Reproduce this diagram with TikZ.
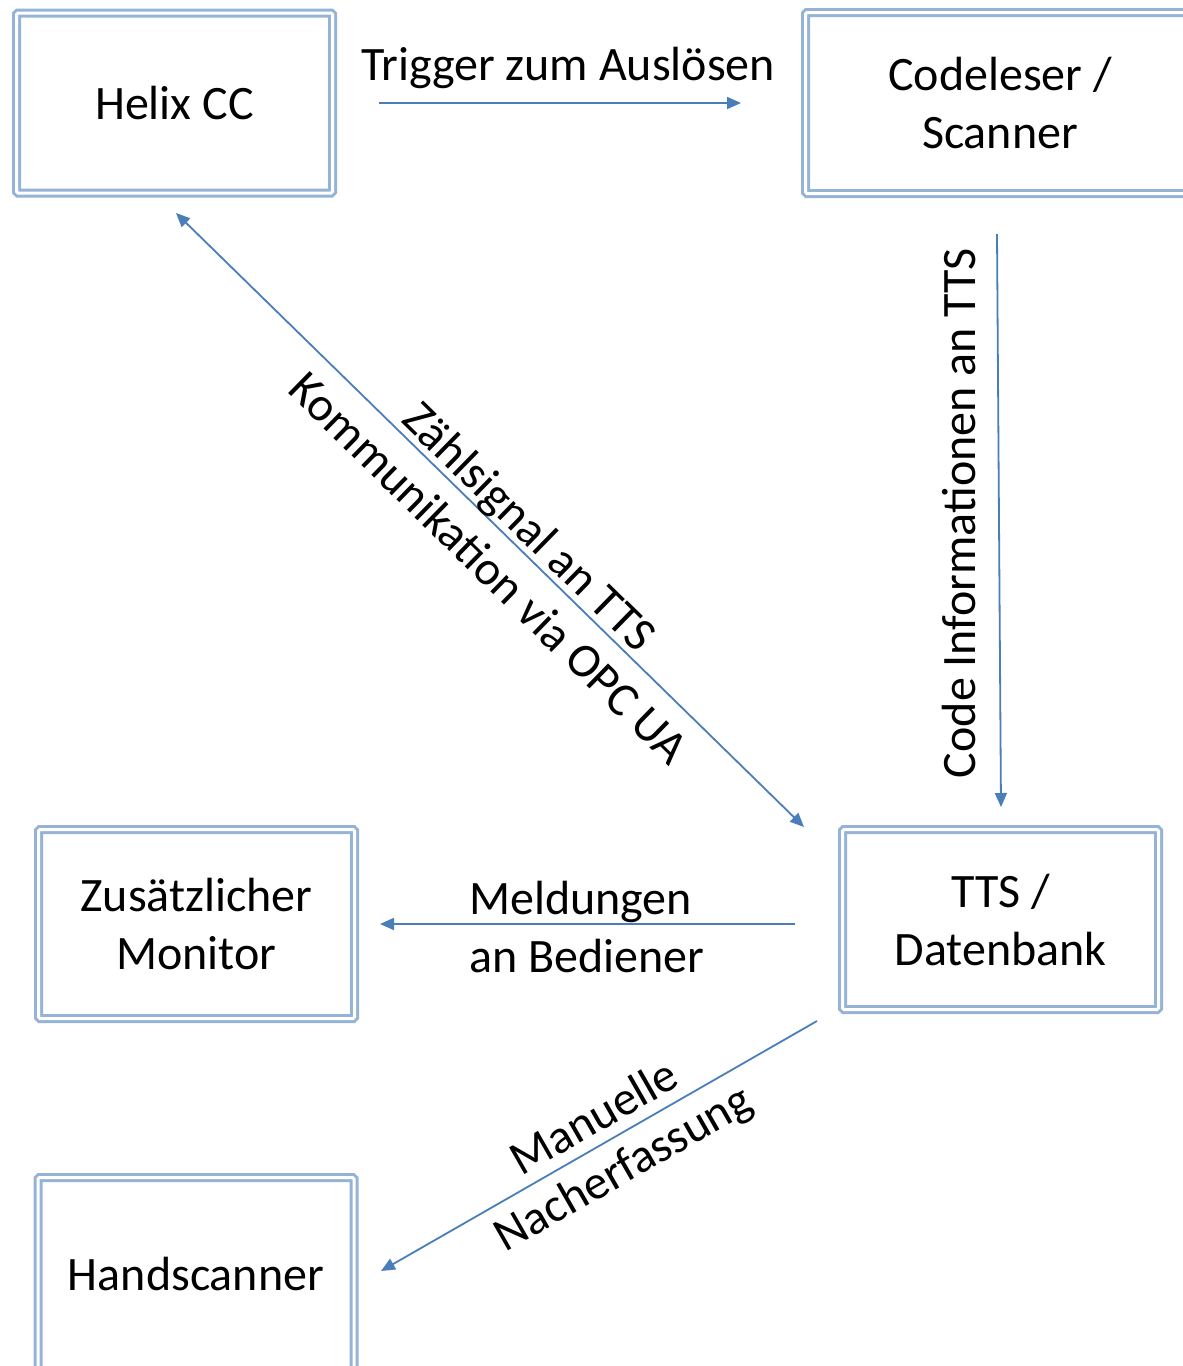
\documentclass[tikz,border=0pt]{standalone}
\usepackage{fontspec}
\setmainfont{Carlito}
\usetikzlibrary{arrows.meta}
\definecolor{boxblue}{HTML}{95B3D7}
\definecolor{arrowblue}{HTML}{4A7EBB}
\begin{document}
\begin{tikzpicture}[x=1pt,y=-1pt,
  box/.style={draw=boxblue, double=white, line width=3pt, double distance=3pt,
    rounded corners=1.5pt, minimum width=316pt, minimum height=179pt,
    inner sep=0pt, align=center, font=\fontsize{48}{58}\selectfont},
  lbl/.style={inner sep=0pt, align=center, font=\fontsize{48}{58}\selectfont},
  conn/.style={draw=arrowblue, line width=1.8pt},
  tip/.style={-{Triangle[length=14pt,width=12pt]}},
  tips/.style={{Triangle[length=14pt,width=12pt]}-{Triangle[length=14pt,width=12pt]}}]
\useasboundingbox (0,0) rectangle (1183,1366);

\node[box, minimum height=180pt] (helix) at (174.5,103) {Helix CC};
\node[box, minimum width=389pt, minimum height=181pt] (code) at (1000,103) {Codeleser /\\Scanner};
\node[box, minimum height=180pt] (tts) at (1000.5,919.5) {TTS /\\Datenbank};
\node[box, minimum height=189pt] (mon) at (196.5,924) {Zusätzlicher\\Monitor};
\node[box, minimum height=193pt] (hand) at (196,1274) {Handscanner};

\coordinate (t1) at (379,103);  \coordinate (t2) at (741,103);
\coordinate (c1) at (997,234);  \coordinate (c2) at (1001,807);
\coordinate (d1) at (176,213);  \coordinate (d2) at (804,827);
\coordinate (m1) at (795,924);  \coordinate (m2) at (380,924);
\coordinate (h1) at (817,1021); \coordinate (h2) at (381,1271);

\draw[conn, tip] (t1) -- (t2);
\draw[conn, tip] (c1) -- (c2);
\draw[conn, tips] (d1) -- (d2);
\draw[conn, tip] (m1) -- (m2);
\draw[conn, tip] (h1) -- (h2);

\node[lbl, anchor=base] (ltrig) at (568,80) {Trigger zum Auslösen};
\node[lbl, anchor=base, rotate=90] (lcode) at (975,513) {Code Informationen an TTS};
\node[lbl, rotate=-44.4] (ldiag) at (510,547) {Zählsignal an TTS\\Kommunikation via OPC UA};
\node[lbl, align=left, anchor=west] (lmeld) at (469,927) {Meldungen\\an Bediener};
\node[lbl, rotate=29.8] (lman) at (610,1145) {Manuelle\\Nacherfassung};
\end{tikzpicture}
\end{document}
